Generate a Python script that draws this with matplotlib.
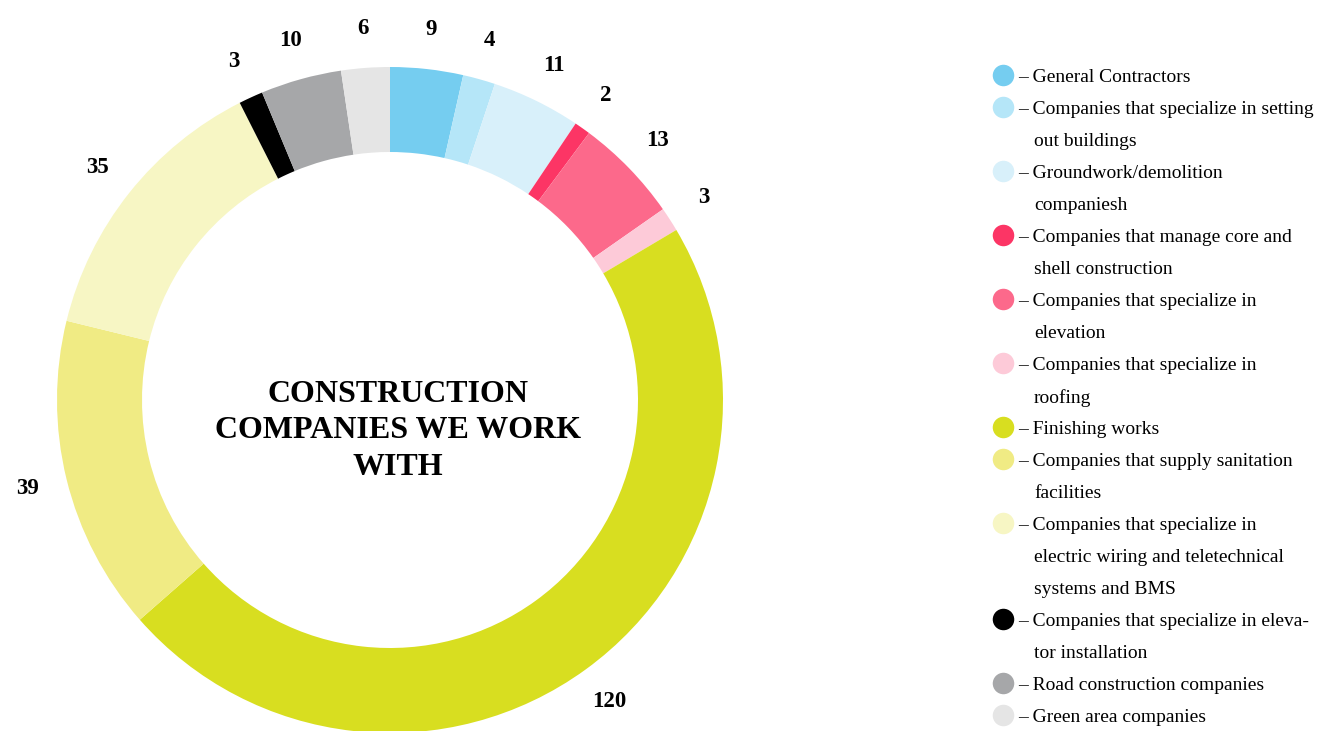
import numpy as np
import matplotlib
matplotlib.use("Agg")
import matplotlib.pyplot as plt

# =========================
# DATA
# =========================
categories = [
    "General Contractors",
    "Companies that specialize in setting\nout buildings",
    "Groundwork/demolition\ncompaniesh",
    "Companies that manage core and\nshell construction",
    "Companies that specialize in\nelevation",
    "Companies that specialize in\nroofing",
    "Finishing works",
    "Companies that supply sanitation\nfacilities",
    "Companies that specialize in\nelectric wiring and teletechnical\nsystems and BMS",
    "Companies that specialize in eleva-\ntor installation",
    "Road construction companies",
    "Green area companies",
]
values = [9, 4, 11, 2, 13, 3, 120, 39, 35, 3, 10, 6]
colors = [
    "#75CDF0", "#B5E6F8", "#D8F0FA", "#FC3565", "#FC698B", "#FDCAD8",
    "#D8DE20", "#F0EB84", "#F7F6C4", "#000000", "#A6A7A9", "#E5E5E5",
]
title = "CONSTRUCTION\nCOMPANIES WE WORK\nWITH"

# =========================
# FIGURE (1 data unit = 1 pixel)
# =========================
W, H = 1322, 731
plt.rcParams["font.family"] = ["Liberation Serif", "DejaVu Serif"]
fig = plt.figure(figsize=(W / 100, H / 100), dpi=100)
ax = fig.add_axes([0, 0, 1, 1])

cx, cy = 390, H - 400
R = 333
ring = 85

wedges, _ = ax.pie(values, colors=colors, startangle=90, counterclock=False,
                   center=(cx, cy), radius=R,
                   wedgeprops=dict(width=ring, linewidth=0))

# value labels outside the ring
total = sum(values)
cum = np.cumsum([0] + values[:-1])
for v, c in zip(values, cum):
    ang = np.deg2rad(90 - (c + v / 2) / total * 360)
    r = R * 1.12
    ax.text(cx + r * np.cos(ang), cy + r * np.sin(ang), str(v),
            ha="center", va="center", fontsize=16.5, fontweight="bold")

# center title
ax.text(cx + 8, cy - 31, title, ha="center", va="center", fontsize=23,
        fontweight="bold", linespacing=1.32)

# legend
lx, ly, step = 1003, 75, 32
row = 0
for name, col in zip(categories, colors):
    y = H - (ly + row * step)
    ax.scatter([lx], [y], s=240, color=col, linewidths=0)
    lines = name.split("\n")
    ax.text(lx + 15, y - 1, "– " + lines[0], ha="left", va="center_baseline",
            fontsize=14)
    for k, extra in enumerate(lines[1:]):
        ax.text(lx + 31, y - 1 - (k + 1) * step, extra, ha="left",
                va="center_baseline", fontsize=14)
    row += len(lines)

ax.set_xlim(0, W)
ax.set_ylim(0, H)
ax.set_aspect("equal")
ax.axis("off")

fig.savefig("out.png", dpi=100, facecolor="white")
